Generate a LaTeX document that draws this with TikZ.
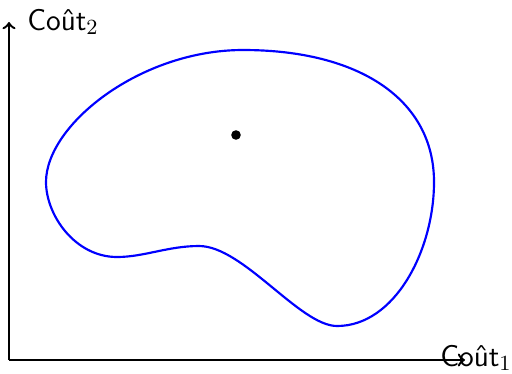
\documentclass[tikz,border=0pt]{standalone}
\begin{document}
\begin{tikzpicture}[x=0.4167pt,y=-0.4167pt,
  axis/.style={line width=1pt,->},
  lbl/.style={font=\fontsize{12.5}{15}\selectfont\sffamily,inner sep=0pt},
  blob/.style={blue,line width=0.9pt}]
\useasboundingbox (0,0) rectangle (512,373);
\coordinate (O) at (9,360);
\coordinate (Y) at (9,22);
\coordinate (X) at (465,360);
\draw[axis] (O) -- (Y);
\draw[axis] (O) -- (X);
\node[lbl] (ly) at (63,22) {Coût$_2$};
\node[lbl] (lx) at (476,358) {Coût$_1$};
\draw[blob] (46,182) .. controls (46,125) and (140,50) .. (243,50)
  .. controls (360,50) and (434,100) .. (434,182)
  .. controls (434,250) and (395,326) .. (337,326)
  .. controls (300,326) and (243,246) .. (199,246)
  .. controls (168,246) and (144,257) .. (117,257)
  .. controls (75,257) and (46,215) .. cycle;
\node[circle,fill=black,inner sep=0pt,minimum size=4pt] (pt) at (236,135) {};
\end{tikzpicture}
\end{document}
